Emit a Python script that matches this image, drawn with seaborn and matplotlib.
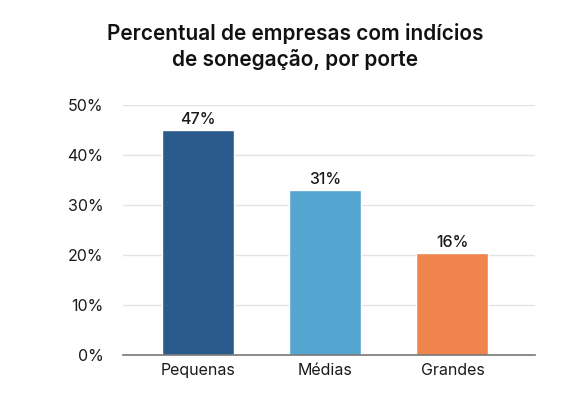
import seaborn as sns
import matplotlib.pyplot as plt
import pandas as pd

categories = ["Pequenas", "Médias", "Grandes"]
heights = [44.9, 33.1, 20.5]
labels = ["47%", "31%", "16%"]
colors = ["#2B5A8C", "#54A5D0", "#EF844D"]
yticks = [0, 10, 20, 30, 40, 50]

df = pd.DataFrame({"porte": categories, "valor": heights})

sns.set_theme(style="white")
plt.rcParams["font.family"] = ["Inter", "DejaVu Sans"]

fig = plt.figure(figsize=(5.87, 4.03), dpi=100)
ax = fig.add_axes([0.2095, 0.119, 0.702, 0.6205])

sns.barplot(data=df, x="porte", y="valor", hue="porte", palette=colors,
            width=0.567, legend=False, ax=ax, saturation=1)

for i, (h, lab) in enumerate(zip(heights, labels)):
    ax.text(i, h + 0.6, lab, ha="center", va="bottom", fontsize=11.5,
            fontweight="medium", color="#1a1a1a")

ax.set_xlim(-0.59, 2.65)
ax.set_ylim(0, 50)
ax.set_yticks(yticks)
ax.set_yticklabels([f"{t}%" for t in yticks])
ax.yaxis.grid(True, color="#e3e3e3", linewidth=1)
ax.set_axisbelow(True)
for s in ["top", "right", "left"]:
    ax.spines[s].set_visible(False)
ax.spines["bottom"].set_color("#777777")
ax.spines["bottom"].set_linewidth(1.2)
ax.tick_params(axis="both", length=0, labelsize=11.5, colors="#1a1a1a")
ax.tick_params(axis="y", pad=14)
ax.tick_params(axis="x", pad=6)
ax.set_xlabel("")
ax.set_ylabel("")

fig.text(0.503, 0.885, "Percentual de empresas com indícios\nde sonegação, por porte",
         ha="center", va="center", fontsize=15, fontweight="semibold",
         linespacing=1.3, color="#111111")

fig.savefig("out.png", dpi=100)
